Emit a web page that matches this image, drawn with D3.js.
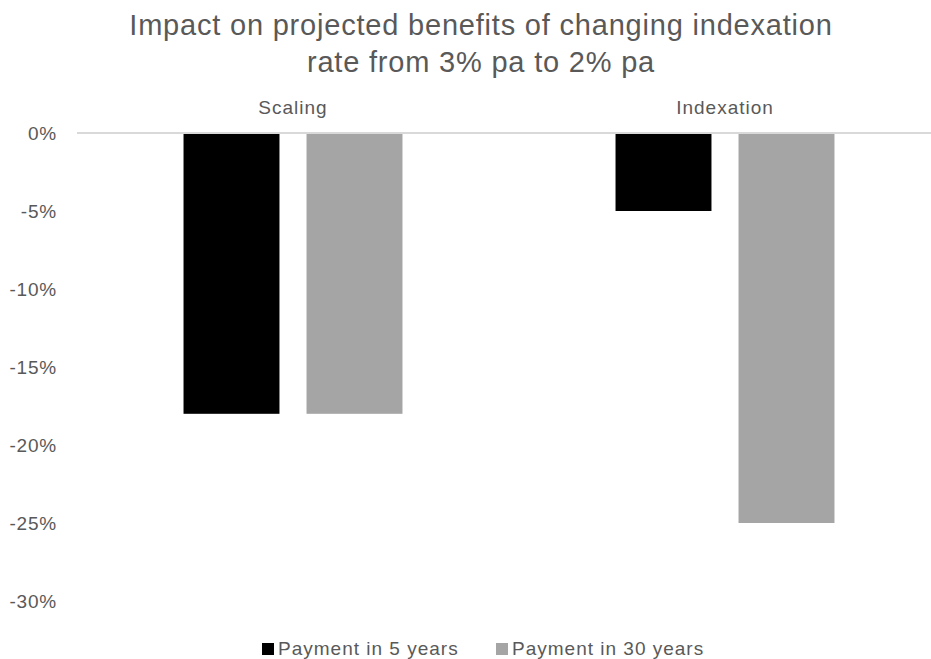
<!DOCTYPE html>
<html>
<head>
<meta charset="utf-8">
<script src="https://cdn.jsdelivr.net/npm/d3@7"></script>
<style>
  body { margin: 0; background: #fff; }
  text { font-family: "Liberation Sans", Arial, sans-serif; fill: #595959; }
</style>
</head>
<body>
<div id="chart"></div>
<script>
// Data
const categories = ['Scaling', 'Indexation'];
const seriesNames = ['Payment in 5 years', 'Payment in 30 years'];
const payment5 = [-18, -5];
const payment30 = [-18, -25];
const yTicks = [0, -5, -10, -15, -20, -25, -30];
const titleLines = ['Impact on projected benefits of changing indexation', 'rate from 3% pa to 2% pa'];
const colors = ['#000000', '#a5a5a5'];

const config = {
  width: 931,
  height: 659,
  plotLeft: 77,
  plotRight: 941,
  plotTop: 133,
  plotBottom: 601
};

const rows = categories.map((c, i) => ({
  category: c,
  values: [payment5[i], payment30[i]]
}));

const svg = d3.select('#chart').append('svg')
  .attr('width', config.width)
  .attr('height', config.height);

// Scales
const x0 = d3.scaleBand()
  .domain(categories)
  .range([config.plotLeft, config.plotRight]);

const x1 = d3.scaleBand()
  .domain(seriesNames)
  .range([0, x0.bandwidth()])
  .paddingInner(0.22)
  .paddingOuter(0.866);

const y = d3.scaleLinear()
  .domain([-30, 0])
  .range([config.plotBottom, config.plotTop]);

// Title
svg.append('text')
  .attr('y', 35)
  .attr('text-anchor', 'middle')
  .attr('font-size', 29)
  .style('letter-spacing', '0.8px')
  .selectAll('tspan')
  .data(titleLines)
  .join('tspan')
  .attr('x', 481)
  .attr('dy', (d, i) => i === 0 ? 0 : 37)
  .text(d => d);

// Y axis (labels only)
const yAxis = d3.axisLeft(y)
  .tickValues(yTicks)
  .tickSize(0)
  .tickPadding(20)
  .tickFormat(d => d + '%');

const yAxisG = svg.append('g')
  .attr('transform', `translate(${config.plotLeft},0)`)
  .call(yAxis);
yAxisG.select('.domain').remove();
yAxisG.selectAll('text')
  .attr('font-size', 19)
  .attr('fill', '#595959')
  .style('letter-spacing', '0.8px')
  .style('font-family', '"Liberation Sans", Arial, sans-serif');

// Bars
const groups = svg.selectAll('.group')
  .data(rows)
  .join('g')
  .attr('class', 'group')
  .attr('transform', d => `translate(${x0(d.category)},0)`);

groups.selectAll('rect')
  .data(d => d.values.map((v, i) => ({ series: seriesNames[i], value: v, idx: i })))
  .join('rect')
  .attr('x', d => x1(d.series))
  .attr('width', x1.bandwidth())
  .attr('y', y(0))
  .attr('height', d => y(d.value) - y(0))
  .attr('fill', d => colors[d.idx]);

// Zero line
svg.append('line')
  .attr('x1', config.plotLeft)
  .attr('x2', config.plotRight)
  .attr('y1', y(0))
  .attr('y2', y(0))
  .attr('stroke', '#d9d9d9')
  .attr('stroke-width', 2);

// Category labels (above the zero line)
svg.selectAll('.cat-label')
  .data(categories)
  .join('text')
  .attr('class', 'cat-label')
  .attr('x', d => x0(d) + x0.bandwidth() / 2)
  .attr('y', 114)
  .attr('text-anchor', 'middle')
  .attr('font-size', 19)
  .style('letter-spacing', '1px')
  .text(d => d);

// Legend
const legendX = [262, 496];
const legend = svg.selectAll('.legend')
  .data(seriesNames)
  .join('g')
  .attr('class', 'legend')
  .attr('transform', (d, i) => `translate(${legendX[i]},643)`);

legend.append('rect')
  .attr('width', 12)
  .attr('height', 12)
  .attr('fill', (d, i) => colors[i]);

legend.append('text')
  .attr('x', 16)
  .attr('y', 12)
  .attr('font-size', 19)
  .style('letter-spacing', '1px')
  .text(d => d);
</script>
</body>
</html>
